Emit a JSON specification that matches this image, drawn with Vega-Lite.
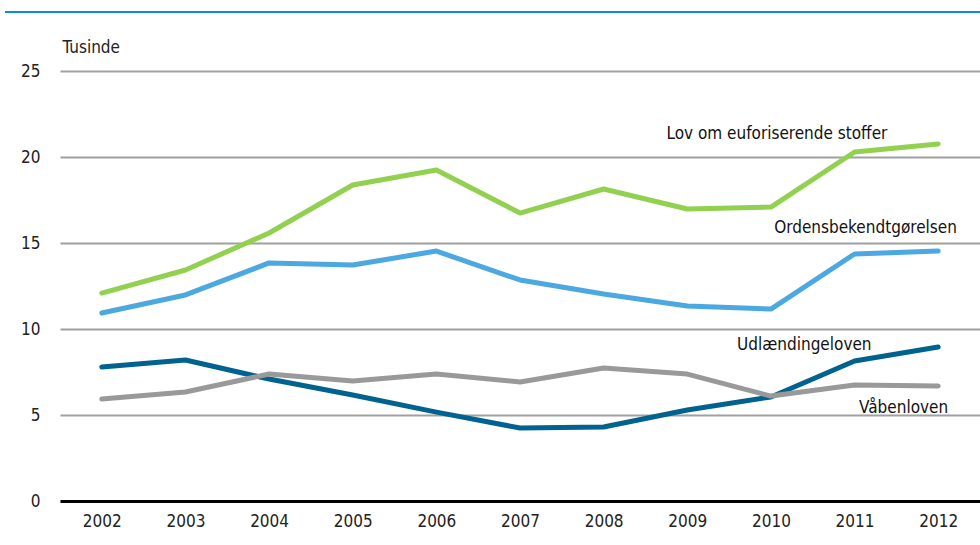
{
  "$schema": "https://vega.github.io/schema/vega-lite/v6.json",
  "autosize": "none",
  "width": 920,
  "height": 430,
  "padding": {"left": 60, "top": 71, "right": 0, "bottom": 44},
  "background": "white",
  "config": {
    "view": {"stroke": null},
    "font": "'Liberation Sans Narrow', 'DejaVu Sans Condensed', 'Liberation Sans', sans-serif",
    "text": {"font": "'Liberation Sans Narrow', 'DejaVu Sans Condensed', 'Liberation Sans', sans-serif"},
    "axis": {"labelFont": "'Liberation Sans Narrow', 'DejaVu Sans Condensed', 'Liberation Sans', sans-serif", "titleFont": "'Liberation Sans Narrow', 'DejaVu Sans Condensed', 'Liberation Sans', sans-serif", "labelColor": "#222222", "titleColor": "#222222"}
  },
  "datasets": {
    "series": [
      {"law": "Lov om euforiserende stoffer", "year": "2002", "value": 12.09},
      {"law": "Lov om euforiserende stoffer", "year": "2003", "value": 13.43},
      {"law": "Lov om euforiserende stoffer", "year": "2004", "value": 15.58},
      {"law": "Lov om euforiserende stoffer", "year": "2005", "value": 18.37},
      {"law": "Lov om euforiserende stoffer", "year": "2006", "value": 19.24},
      {"law": "Lov om euforiserende stoffer", "year": "2007", "value": 16.74},
      {"law": "Lov om euforiserende stoffer", "year": "2008", "value": 18.14},
      {"law": "Lov om euforiserende stoffer", "year": "2009", "value": 16.98},
      {"law": "Lov om euforiserende stoffer", "year": "2010", "value": 17.09},
      {"law": "Lov om euforiserende stoffer", "year": "2011", "value": 20.29},
      {"law": "Lov om euforiserende stoffer", "year": "2012", "value": 20.76},
      {"law": "Ordensbekendtgørelsen", "year": "2002", "value": 10.93},
      {"law": "Ordensbekendtgørelsen", "year": "2003", "value": 11.98},
      {"law": "Ordensbekendtgørelsen", "year": "2004", "value": 13.84},
      {"law": "Ordensbekendtgørelsen", "year": "2005", "value": 13.72},
      {"law": "Ordensbekendtgørelsen", "year": "2006", "value": 14.53},
      {"law": "Ordensbekendtgørelsen", "year": "2007", "value": 12.85},
      {"law": "Ordensbekendtgørelsen", "year": "2008", "value": 12.03},
      {"law": "Ordensbekendtgørelsen", "year": "2009", "value": 11.34},
      {"law": "Ordensbekendtgørelsen", "year": "2010", "value": 11.16},
      {"law": "Ordensbekendtgørelsen", "year": "2011", "value": 14.36},
      {"law": "Ordensbekendtgørelsen", "year": "2012", "value": 14.53},
      {"law": "Udlændingeloven", "year": "2002", "value": 7.79},
      {"law": "Udlændingeloven", "year": "2003", "value": 8.2},
      {"law": "Udlændingeloven", "year": "2004", "value": 7.09},
      {"law": "Udlændingeloven", "year": "2005", "value": 6.16},
      {"law": "Udlændingeloven", "year": "2006", "value": 5.17},
      {"law": "Udlændingeloven", "year": "2007", "value": 4.24},
      {"law": "Udlændingeloven", "year": "2008", "value": 4.3},
      {"law": "Udlændingeloven", "year": "2009", "value": 5.29},
      {"law": "Udlændingeloven", "year": "2010", "value": 6.05},
      {"law": "Udlændingeloven", "year": "2011", "value": 8.14},
      {"law": "Udlændingeloven", "year": "2012", "value": 8.95},
      {"law": "Våbenloven", "year": "2002", "value": 5.93},
      {"law": "Våbenloven", "year": "2003", "value": 6.34},
      {"law": "Våbenloven", "year": "2004", "value": 7.38},
      {"law": "Våbenloven", "year": "2005", "value": 6.98},
      {"law": "Våbenloven", "year": "2006", "value": 7.38},
      {"law": "Våbenloven", "year": "2007", "value": 6.92},
      {"law": "Våbenloven", "year": "2008", "value": 7.73},
      {"law": "Våbenloven", "year": "2009", "value": 7.38},
      {"law": "Våbenloven", "year": "2010", "value": 6.1},
      {"law": "Våbenloven", "year": "2011", "value": 6.74},
      {"law": "Våbenloven", "year": "2012", "value": 6.69}
    ]
  },
  "layer": [
    {
      "data": {"name": "series"},
      "mark": {"type": "line", "strokeWidth": 5, "strokeCap": "round", "strokeJoin": "round"},
      "encoding": {
        "x": {
          "field": "year", "type": "ordinal",
          "scale": {"type": "point", "padding": 0.5},
          "axis": {"title": null, "labelAngle": 0, "labelFontSize": 17, "labelPadding": 12, "ticks": false, "domainColor": "#000000", "domainWidth": 3, "grid": false}
        },
        "y": {
          "field": "value", "type": "quantitative",
          "scale": {"domain": [0, 25], "nice": false},
          "axis": {
            "values": [0, 5, 10, 15, 20, 25],
            "title": "Tusinde", "titleAngle": 0, "titleAlign": "left", "titleBaseline": "middle", "titleX": 2, "titleY": -24, "titleFontSize": 17, "titleFontWeight": "normal",
            "labelFontSize": 17, "labelPadding": 20, "ticks": false, "domain": false,
            "grid": true, "gridColor": "#a0a0a0", "gridWidth": 2
          }
        },
        "color": {
          "field": "law", "type": "nominal", "legend": null,
          "scale": {
            "domain": ["Lov om euforiserende stoffer", "Ordensbekendtgørelsen", "Udlændingeloven", "Våbenloven"],
            "range": ["#92d050", "#4ca8e0", "#00628f", "#999999"]
          }
        }
      }
    },
    {
      "data": {"values": [{"v": 28.43}]},
      "mark": {"type": "rule", "color": "#0a8fd0", "strokeWidth": 2, "clip": false},
      "encoding": {"y": {"field": "v", "type": "quantitative"}, "x": {"value": -55}, "x2": {"value": 920}}
    },
    {
      "data": {"values": [{"label": "Lov om euforiserende stoffer", "year": "2010", "value": 21.34}]},
      "mark": {"type": "text", "fontSize": 17, "align": "center", "baseline": "middle", "dx": 6, "color": "#111111"},
      "encoding": {"x": {"field": "year", "type": "ordinal"}, "y": {"field": "value", "type": "quantitative"}, "text": {"field": "label"}}
    },
    {
      "data": {"values": [{"label": "Ordensbekendtgørelsen", "year": "2011", "value": 15.87}]},
      "mark": {"type": "text", "fontSize": 17, "align": "center", "baseline": "middle", "dx": 11, "color": "#111111"},
      "encoding": {"x": {"field": "year", "type": "ordinal"}, "y": {"field": "value", "type": "quantitative"}, "text": {"field": "label"}}
    },
    {
      "data": {"values": [{"label": "Udlændingeloven", "year": "2011", "value": 9.07}]},
      "mark": {"type": "text", "fontSize": 17, "align": "right", "baseline": "middle", "dx": 17, "color": "#111111"},
      "encoding": {"x": {"field": "year", "type": "ordinal"}, "y": {"field": "value", "type": "quantitative"}, "text": {"field": "label"}}
    },
    {
      "data": {"values": [{"label": "Våbenloven", "year": "2012", "value": 5.41}]},
      "mark": {"type": "text", "fontSize": 17, "align": "right", "baseline": "middle", "dx": 10, "color": "#111111"},
      "encoding": {"x": {"field": "year", "type": "ordinal"}, "y": {"field": "value", "type": "quantitative"}, "text": {"field": "label"}}
    }
  ]
}
